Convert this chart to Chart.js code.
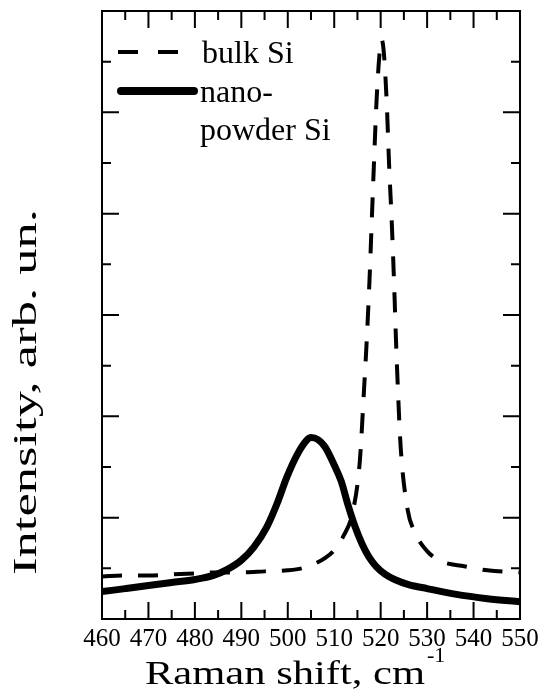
<!DOCTYPE html>
<html>
<head>
<meta charset="utf-8">
<title>Raman spectra</title>
<script src="https://cdn.jsdelivr.net/npm/chart.js@4.4.1/dist/chart.umd.min.js"></script>
<style>
    body { margin: 0; background: #fff; }
    #chartBox { width: 540px; height: 693px; }
</style>
</head>
<body>
<div id="chartBox">
    <canvas id="ramanChart" width="540" height="693"></canvas>
</div>
<script>
// Data (Raman shift in cm-1, intensity in arb. units)
const bulkShift = [460, 465, 470, 475, 480, 485, 490, 495, 500, 503, 506, 508, 510, 512, 514, 515.5, 516.4, 517, 517.6, 518.1, 518.6, 519.1, 519.7, 520.2, 520.7, 521.3, 521.8, 522.4, 522.9, 523.3, 523.7, 524.3, 525.8, 527.1, 530, 533, 538, 543, 550];
const bulkIntensity = [0.42, 0.43, 0.43, 0.44, 0.45, 0.46, 0.46, 0.47, 0.48, 0.50, 0.55, 0.60, 0.68, 0.82, 1.06, 1.55, 2.25, 2.75, 3.35, 3.95, 4.55, 5.10, 5.55, 5.72, 5.58, 5.10, 4.50, 3.90, 3.30, 2.75, 2.28, 1.70, 1.08, 0.88, 0.67, 0.57, 0.52, 0.48, 0.46];

const nanoShift = [460, 465, 470, 475, 480, 484, 487, 490, 492.7, 495.5, 497.7, 499.8, 502, 504, 505, 506.5, 508, 510, 511.5, 513, 514.5, 516, 517.5, 519, 521, 523, 526, 530, 536, 543, 550];
const nanoIntensity = [0.27, 0.30, 0.33, 0.36, 0.39, 0.43, 0.49, 0.58, 0.71, 0.91, 1.14, 1.40, 1.62, 1.76, 1.79, 1.77, 1.70, 1.52, 1.36, 1.12, 0.91, 0.74, 0.61, 0.52, 0.44, 0.39, 0.34, 0.30, 0.245, 0.20, 0.17];

const xTickLabels = ["460", "470", "480", "490", "500", "510", "520", "530", "540", "550"];

const serif = "'Liberation Serif', 'Times New Roman', serif";

function toPoints(xs, ys) {
    return xs.map((x, i) => ({ x: x, y: ys[i] }));
}

// inward tick marks on all four sides, plus the top/right frame
const frameTicks = {
    id: "frameTicks",
    afterDatasetsDraw(chart) {
        const ctx = chart.ctx;
        const area = chart.chartArea;
        const xs = chart.scales.x;
        const ys = chart.scales.y;
        ctx.save();
        ctx.strokeStyle = "#000";
        ctx.lineWidth = 2;
        ctx.strokeRect(area.left, area.top, area.right - area.left, area.bottom - area.top);

        for (let v = xs.min + 5; v < xs.max; v += 5) {
            const px = xs.getPixelForValue(v);
            const len = v % 10 === 0 ? 17 : 9;
            ctx.beginPath();
            ctx.moveTo(px, area.bottom);
            ctx.lineTo(px, area.bottom - len);
            ctx.moveTo(px, area.top);
            ctx.lineTo(px, area.top + len);
            ctx.stroke();
        }
        for (let v = ys.min + 0.5; v < ys.max; v += 0.5) {
            const py = ys.getPixelForValue(v);
            const len = Number.isInteger(v) ? 17 : 9;
            ctx.beginPath();
            ctx.moveTo(area.left, py);
            ctx.lineTo(area.left + len, py);
            ctx.moveTo(area.right, py);
            ctx.lineTo(area.right - len, py);
            ctx.stroke();
        }
        ctx.restore();
    }
};

// axis titles (stretched like the original) and the in-plot legend
const titlesAndLegend = {
    id: "titlesAndLegend",
    afterDraw(chart) {
        const ctx = chart.ctx;
        ctx.save();
        ctx.fillStyle = "#000";
        ctx.textAlign = "left";
        ctx.textBaseline = "alphabetic";

        // x title with superscript
        ctx.font = "33px " + serif;
        const xTitle = "Raman shift, cm";
        let w = ctx.measureText(xTitle).width;
        ctx.save();
        ctx.translate(145, 684);
        ctx.scale(280 / w, 1);
        ctx.fillText(xTitle, 0, 0);
        ctx.restore();
        ctx.font = "22px " + serif;
        ctx.fillText("-1", 427, 662);

        // y title, rotated
        ctx.font = "33px " + serif;
        const yTitle = "Intensity, arb. un.";
        w = ctx.measureText(yTitle).width;
        ctx.save();
        ctx.translate(36, 575);
        ctx.rotate(-Math.PI / 2);
        ctx.scale(366 / w, 1);
        ctx.fillText(yTitle, 0, 0);
        ctx.restore();

        // legend
        ctx.strokeStyle = "#000";
        ctx.lineWidth = 4;
        ctx.setLineDash([20, 20]);
        ctx.beginPath();
        ctx.moveTo(118, 52);
        ctx.lineTo(178, 52);
        ctx.stroke();
        ctx.setLineDash([]);
        ctx.lineWidth = 8;
        ctx.lineCap = "round";
        ctx.beginPath();
        ctx.moveTo(121, 91);
        ctx.lineTo(194, 91);
        ctx.stroke();

        ctx.font = "32px " + serif;
        ctx.fillText("bulk Si", 202, 63);
        ctx.fillText("nano-", 200, 102);
        ctx.fillText("powder Si", 200, 140);
        ctx.restore();
    }
};

document.addEventListener("DOMContentLoaded", function () {
    const ctx = document.getElementById("ramanChart").getContext("2d");
    new Chart(ctx, {
        type: "line",
        data: {
            datasets: [
                {
                    label: "bulk Si",
                    data: toPoints(bulkShift, bulkIntensity),
                    borderColor: "#000",
                    borderWidth: 4,
                    borderDash: [20, 16],
                    cubicInterpolationMode: "monotone",
                    pointRadius: 0,
                    fill: false
                },
                {
                    label: "nano-powder Si",
                    data: toPoints(nanoShift, nanoIntensity),
                    borderColor: "#000",
                    borderWidth: 7,
                    borderJoinStyle: "round",
                    cubicInterpolationMode: "monotone",
                    pointRadius: 0,
                    fill: false
                }
            ]
        },
        options: {
            responsive: false,
            animation: false,
            layout: {
                padding: { top: 11, right: 20, left: 0, bottom: 0 }
            },
            scales: {
                x: {
                    type: "linear",
                    min: 460,
                    max: 550,
                    afterFit: (scale) => {
                        scale.height = 74;
                        // labels may hang over the edges, the padding above covers it
                        scale.paddingLeft = 0;
                        scale.paddingRight = 0;
                    },
                    afterBuildTicks: (scale) => {
                        scale.ticks = xTickLabels.map(t => ({ value: Number(t) }));
                    },
                    ticks: {
                        color: "#000",
                        font: { family: serif, size: 25 },
                        padding: 5,
                        maxRotation: 0,
                        autoSkip: false,
                        callback: (value) => String(value)
                    },
                    grid: { display: false, drawTicks: false },
                    border: { display: true, color: "#000", width: 2 }
                },
                y: {
                    min: 0,
                    max: 6,
                    afterFit: (scale) => { scale.width = 102; },
                    ticks: { display: false },
                    grid: { display: false, drawTicks: false },
                    border: { display: true, color: "#000", width: 2 }
                }
            },
            plugins: {
                legend: { display: false },
                tooltip: { enabled: false }
            }
        },
        plugins: [frameTicks, titlesAndLegend]
    });
});
</script>
</body>
</html>
